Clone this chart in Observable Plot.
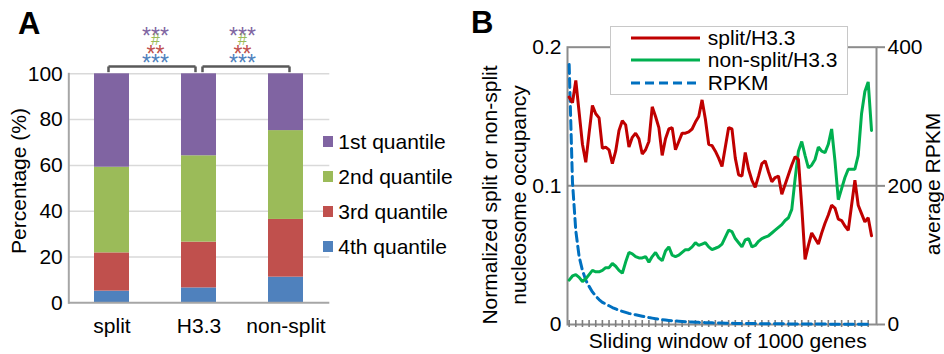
<!DOCTYPE html>
<html>
<head>
<meta charset="utf-8">
<script src="https://cdn.jsdelivr.net/npm/d3@7"></script>
<script src="https://cdn.jsdelivr.net/npm/@observablehq/plot@0.6"></script>
<style>
  html, body { margin: 0; padding: 0; background: #fff; }
  #chart { position: relative; width: 944px; height: 354px; overflow: hidden;
           font-family: "Liberation Sans", Arial, sans-serif; color: #000; }
  .panel { position: absolute; top: 0; }
  .legend-a { position: absolute; left: 322.7px; top: 124.2px; font-size: 21px; }
  .legend-a .row { height: 35px; display: flex; align-items: center; white-space: nowrap; }
  .legend-a .sw { width: 10.6px; height: 10.6px; margin-right: 5px; flex: none; }
  .legend-b { position: absolute; left: 610px; top: 26px; width: 236px; height: 67px;
              border: 1.5px solid #c8c8c8; background: #fff; font-size: 21px; }
  .legend-b .row { height: 22.5px; display: flex; align-items: center; white-space: nowrap; }
  .legend-b .row:first-child { margin-top: -0.5px; }
  .legend-b svg { margin-left: 20.2px; margin-right: 7.6px; flex: none; }
  #titles { position: absolute; left: 0; top: 0; pointer-events: none; }
</style>
</head>
<body>
<div id="chart"></div>
<script>
// ---- Panel A: share of each expression quantile per nucleosome class ----
const groups = ["split", "H3.3", "non-split"];
const quantiles = ["1st quantile", "2nd quantile", "3rd quantile", "4th quantile"];
const q1st = [40.8, 35.8, 24.8];
const q2nd = [37.4, 37.7, 38.8];
const q3rd = [16.7, 20.0, 25.2];
const q4th = [5.1, 6.5, 11.2];
const quantileColors = ["#8064A2", "#9BBB59", "#C0504D", "#4F81BD"];
// pairwise comparisons and their significance marks (1st..4th quantile)
const comparisons = [["split", "H3.3"], ["H3.3", "non-split"]];
const sigMarks = ["***", "#", "**", "***"];

// ---- Panel B: sliding-window occupancy ratios and expression ----
const splitRatio = [
  0.164, 0.160, 0.176, 0.153, 0.130, 0.117, 0.138, 0.158, 0.152, 0.149,
  0.127, 0.128, 0.126, 0.116, 0.125, 0.140, 0.147, 0.144, 0.128, 0.135,
  0.138, 0.134, 0.123, 0.126, 0.132, 0.157, 0.150, 0.142, 0.122, 0.134,
  0.141, 0.142, 0.126, 0.132, 0.138, 0.138, 0.139, 0.141, 0.146, 0.150,
  0.162, 0.148, 0.130, 0.129, 0.125, 0.120, 0.114, 0.128, 0.142, 0.141,
  0.120, 0.108, 0.107, 0.124, 0.112, 0.104, 0.099, 0.107, 0.116, 0.118,
  0.110, 0.103, 0.106, 0.107, 0.094, 0.101, 0.108, 0.115, 0.121, 0.119,
  0.085, 0.047, 0.057, 0.066, 0.062, 0.058, 0.066, 0.073, 0.079, 0.086,
  0.084, 0.076, 0.075, 0.071, 0.068, 0.086, 0.104, 0.086, 0.080, 0.074,
  0.077, 0.064
];
const nonSplitRatio = [
  0.032, 0.035, 0.036, 0.034, 0.031, 0.033, 0.036, 0.039, 0.038, 0.038,
  0.039, 0.041, 0.041, 0.044, 0.042, 0.039, 0.037, 0.045, 0.052, 0.051,
  0.049, 0.048, 0.048, 0.049, 0.045, 0.049, 0.052, 0.048, 0.046, 0.053,
  0.056, 0.050, 0.049, 0.050, 0.052, 0.054, 0.054, 0.056, 0.059, 0.057,
  0.058, 0.059, 0.056, 0.054, 0.055, 0.056, 0.058, 0.063, 0.068, 0.067,
  0.062, 0.059, 0.056, 0.061, 0.062, 0.056, 0.057, 0.060, 0.062, 0.063,
  0.064, 0.066, 0.068, 0.070, 0.072, 0.075, 0.077, 0.083, 0.105, 0.125,
  0.132, 0.122, 0.113, 0.115, 0.119, 0.128, 0.125, 0.124, 0.130, 0.141,
  0.118, 0.090, 0.098, 0.106, 0.112, 0.112, 0.112, 0.122, 0.152, 0.168,
  0.175, 0.140
];
const rpkm = [
  375, 205, 135, 98, 78, 64, 55, 47, 41, 36,
  32, 29.5, 27, 24.5, 22.5, 20.5, 19, 17.5, 16, 15,
  14, 13, 12, 11, 10, 9.2, 8.4, 7.7, 7, 6.4,
  5.9, 5.4, 5, 4.6, 4.3, 4, 3.7, 3.5, 3.3, 3.1,
  2.9, 2.7, 2.5, 2.4, 2.2, 2.1, 2, 1.9, 1.8, 1.7,
  1.6, 1.55, 1.5, 1.45, 1.4, 1.35, 1.3, 1.25, 1.2, 1.15,
  1.1, 1.05, 1.0, 0.97, 0.94, 0.9, 0.87, 0.84, 0.8, 0.78,
  0.75, 0.72, 0.7, 0.67, 0.65, 0.62, 0.6, 0.58, 0.55, 0.53,
  0.5, 0.48, 0.46, 0.44, 0.42, 0.4, 0.38, 0.36, 0.35, 0.33,
  0.32, 0.3
];
const seriesNames = ["split/H3.3", "non-split/H3.3", "RPKM"];
const seriesColors = ["#C00000", "#00B050", "#0070C0"];
const rpkmMax = 400;   // right axis spans 0–400 RPKM
const ratioMax = 0.2;  // left axis spans 0–0.2

const font = '"Liberation Sans", Arial, sans-serif';
const chart = document.getElementById("chart");

// ---------- Panel A ----------
const rows = groups.flatMap((g, i) => [
  {group: g, quantile: quantiles[3], pct: q4th[i]},
  {group: g, quantile: quantiles[2], pct: q3rd[i]},
  {group: g, quantile: quantiles[1], pct: q2nd[i]},
  {group: g, quantile: quantiles[0], pct: q1st[i]}
]);
const starRows = comparisons.flatMap(([a]) =>
  quantiles.map((q, k) => ({from: a, quantile: q, label: sigMarks[k], level: 107.2 + (3 - k) * 3.9}))
);
const bracketMarks = comparisons.flatMap(([a, b], k) => {
  const shift = k === 0 ? -3.5 : 3.5;
  const style = {stroke: "#595959", strokeWidth: 2.5, dx: shift};
  return [
    Plot.link([[a, b]], {x1: d => d[0], x2: d => d[1], y1: 103.2, y2: 103.2, ...style}),
    Plot.link([a, b], {x1: d => d, x2: d => d, y1: 100.7, y2: 103.2, ...style})
  ];
});

const plotA = Plot.plot({
  width: 470, height: 354,
  marginLeft: 68.3, marginRight: 140.7, marginTop: 73.3, marginBottom: 51.7,
  style: {fontFamily: font, fontSize: "21px", color: "#000", background: "none", overflow: "visible"},
  x: {domain: groups, paddingInner: 0.6, paddingOuter: 0.3},
  y: {domain: [0, 100]},
  color: {domain: quantiles, range: quantileColors},
  marks: [
    Plot.gridY(d3.range(20, 101, 20), {stroke: "#d9d9d9", strokeOpacity: 1, strokeWidth: 1.5}),
    Plot.barY(rows, {x: "group", y: "pct", fill: "quantile"}),
    Plot.ruleY([0], {stroke: "#a6a6a6", strokeWidth: 2}),
    Plot.frame({anchor: "left", stroke: "#a6a6a6", strokeWidth: 2}),
    Plot.axisY(d3.range(0, 101, 20), {tickSize: 0, tickPadding: 6, label: null}),
    Plot.axisX({tickSize: 0, tickPadding: 15, label: null}),
    ...bracketMarks,
    Plot.text(starRows.filter(d => d.label !== "#"),
      {x: "from", y: "level", text: "label", fill: "quantile", fontSize: 23, dx: 43.5, dy: 5.9}),
    Plot.text(starRows.filter(d => d.label === "#"),
      {x: "from", y: "level", text: "label", fill: "quantile", fontSize: 16, dx: 43.5, dy: 0})
  ]
});
plotA.classList.add("panel");
plotA.style.left = "0px";
chart.appendChild(plotA);

// ---------- Panel B ----------
const windows = d3.range(splitRatio.length);
const plotB = Plot.plot({
  width: 474, height: 354,
  marginLeft: 97, marginRight: 68, marginTop: 46.7, marginBottom: 30,
  style: {fontFamily: font, fontSize: "21px", color: "#000", background: "none", overflow: "visible"},
  x: {domain: [-0.5, windows.length + 0.5]},
  y: {domain: [0, ratioMax]},
  marks: [
    Plot.gridY([ratioMax / 2], {stroke: "#8c8c8c", strokeOpacity: 1, strokeWidth: 2}),
    Plot.frame({stroke: "#8c8c8c", strokeWidth: 2}),
    Plot.axisY([0, ratioMax / 2, ratioMax], {
      tickSize: 0, tickPadding: 6, label: null,
      tickFormat: d => d === 0 ? "0" : d.toFixed(1)
    }),
    Plot.axisY([0, ratioMax / 2, ratioMax], {
      anchor: "right", tickSize: 8, tickPadding: 3, label: null,
      stroke: "#8c8c8c", strokeWidth: 2,
      tickFormat: d => String(Math.round(d / ratioMax * rpkmMax))
    }),
    Plot.axisX(d3.range(0, windows.length, 2), {
      tickSize: 7, tickFormat: () => "", label: null, dy: -4,
      stroke: "#7f7f7f", strokeWidth: 1.6
    }),
    // RPKM is drawn against the right axis: 0–400 maps onto the 0–0.2 frame
    Plot.line(windows, {x: i => i, y: i => rpkm[i] / rpkmMax * ratioMax,
      stroke: seriesColors[2], strokeWidth: 3, strokeDasharray: "9,5"}),
    Plot.line(windows, {x: i => i, y: i => nonSplitRatio[i],
      stroke: seriesColors[1], strokeWidth: 3, strokeLinejoin: "miter"}),
    Plot.line(windows, {x: i => i, y: i => splitRatio[i],
      stroke: seriesColors[0], strokeWidth: 3, strokeLinejoin: "miter"})
  ]
});
plotB.classList.add("panel");
plotB.style.left = "470px";
chart.appendChild(plotB);

// ---------- Legends ----------
const legA = document.createElement("div");
legA.className = "legend-a";
quantiles.forEach((q, k) => {
  const row = document.createElement("div");
  row.className = "row";
  row.innerHTML = `<span class="sw" style="background:${quantileColors[k]}"></span><span>${q}</span>`;
  legA.appendChild(row);
});
chart.appendChild(legA);

const legB = document.createElement("div");
legB.className = "legend-b";
seriesNames.forEach((name, k) => {
  const row = document.createElement("div");
  row.className = "row";
  const dash = k === 2 ? 'stroke-dasharray="9,5"' : "";
  row.innerHTML = `<svg width="69" height="6"><line x1="0" x2="69" y1="3" y2="3" stroke="${seriesColors[k]}" stroke-width="3" ${dash}/></svg><span>${name}</span>`;
  legB.appendChild(row);
});
chart.appendChild(legB);

// ---------- Panel letters and axis titles ----------
const ns = "http://www.w3.org/2000/svg";
const titles = document.createElementNS(ns, "svg");
titles.setAttribute("id", "titles");
titles.setAttribute("width", 944);
titles.setAttribute("height", 354);
titles.setAttribute("font-family", font);
titles.setAttribute("font-size", 21);
const addText = (str, attrs) => {
  const t = document.createElementNS(ns, "text");
  for (const [k, v] of Object.entries(attrs)) t.setAttribute(k, v);
  t.textContent = str;
  titles.appendChild(t);
};
addText("A", {x: 18, y: 33.7, "font-size": 31, "font-weight": "bold"});
addText("B", {x: 471, y: 33.3, "font-size": 31, "font-weight": "bold"});
addText("Percentage (%)", {transform: "translate(25.5,181) rotate(-90)", "text-anchor": "middle"});
addText("Normalized split or non-split", {transform: "translate(496.5,195) rotate(-90)", "text-anchor": "middle"});
addText("nucleosome occupancy", {transform: "translate(525.5,195) rotate(-90)", "text-anchor": "middle"});
addText("average RPKM", {transform: "translate(940,184) rotate(-90)", "text-anchor": "middle"});
addText("Sliding window of 1000 genes", {x: 727.8, y: 348.3, "text-anchor": "middle"});
chart.appendChild(titles);
</script>
</body>
</html>
